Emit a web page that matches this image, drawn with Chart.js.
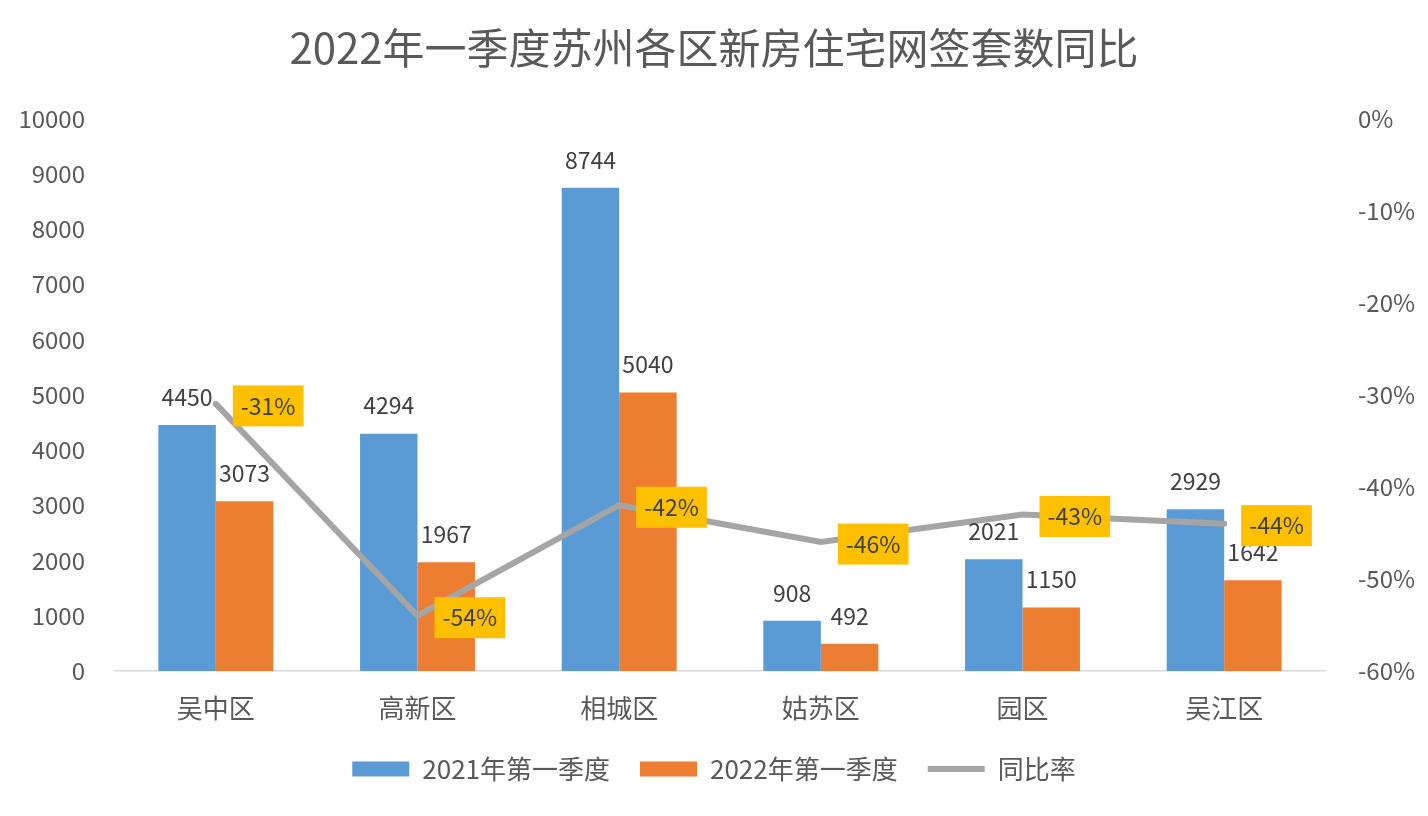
<!DOCTYPE html>
<html>
<head>
<meta charset="utf-8">
<script src="https://cdn.jsdelivr.net/npm/chart.js@4.4.1/dist/chart.umd.min.js"></script>
<style>
  html, body { margin: 0; padding: 0; background: #fff; }
  #wrap { width: 1428px; height: 816px; position: relative; }
</style>
</head>
<body>
<div id="wrap"><canvas id="salesChart"></canvas></div>
<script>
// ── data ──────────────────────────────────────────────
const districts = ['吴中区', '高新区', '相城区', '姑苏区', '园区', '吴江区'];
const sales2021 = [4450, 4294, 8744, 908, 2021, 2929];
const sales2022 = [3073, 1967, 5040, 492, 1150, 1642];
const yoyRate   = [-31, -54, -42, -46, -43, -44];   // %
const seriesNames = ['2021年第一季度', '2022年第一季度', '同比率'];
const titleText = '2022年一季度苏州各区新房住宅网签套数同比';

const FONT = '"Noto Sans CJK SC", "Noto Sans", sans-serif';
const TEXT = '#595959';
const LABEL = '#404040';
const COLORS = { blue: '#5B9BD5', orange: '#ED7D31', grey: '#A5A5A5', yellow: '#FFC000' };

Chart.defaults.font.family = FONT;
Chart.defaults.color = TEXT;

// value labels above bars + yellow boxes next to the line points
const valueLabels = {
    id: 'valueLabels',
    afterDatasetsDraw(chart) {
        const ctx = chart.ctx;
        ctx.save();
        ctx.font = '23px ' + FONT;
        ctx.textAlign = 'center';
        ctx.textBaseline = 'middle';
        [0, 1].forEach(di => {
            const vals = chart.data.datasets[di].data;
            chart.getDatasetMeta(di).data.forEach((bar, i) => {
                ctx.fillStyle = LABEL;
                ctx.fillText(String(vals[i]), bar.x, bar.y - 28);
            });
        });
        chart.getDatasetMeta(2).data.forEach((pt, i) => {
            const txt = yoyRate[i] + '%';
            const w = ctx.measureText(txt).width + 16, h = 41;
            const x0 = pt.x + 17, cy = pt.y + 2;
            ctx.fillStyle = COLORS.yellow;
            ctx.fillRect(x0, cy - h / 2, w, h);
            ctx.fillStyle = LABEL;
            ctx.fillText(txt, x0 + w / 2, cy);
        });
        ctx.restore();
    }
};

const ctx = document.getElementById('salesChart').getContext('2d');
new Chart(ctx, {
    type: 'bar',
    data: {
        labels: districts,
        datasets: [
            { label: seriesNames[0], data: sales2021, backgroundColor: COLORS.blue, yAxisID: 'y',
              categoryPercentage: 0.57, barPercentage: 1, order: 1, pointStyle: 'rect' },
            { label: seriesNames[1], data: sales2022, backgroundColor: COLORS.orange, yAxisID: 'y',
              categoryPercentage: 0.57, barPercentage: 1, order: 2, pointStyle: 'rect' },
            { type: 'line', label: seriesNames[2], data: yoyRate, borderColor: COLORS.grey, backgroundColor: COLORS.grey,
              borderWidth: 6, borderCapStyle: 'round', pointRadius: 0, pointStyle: 'line', tension: 0,
              yAxisID: 'y1', order: 0 }
        ]
    },
    options: {
        responsive: true,
        maintainAspectRatio: false,
        animation: false,
        devicePixelRatio: 1,
        layout: { padding: { left: 0, right: 0, top: 0, bottom: 24 } },
        plugins: {
            title: { display: true, text: titleText, color: TEXT, font: { size: 42, weight: 'normal' },
                     padding: { top: 23, bottom: 45 } },
            legend: {
                position: 'bottom',
                labels: { color: TEXT, font: { size: 26 }, usePointStyle: true, pointStyleWidth: 57,
                          boxHeight: 15, padding: 30, sort: (a, b) => a.datasetIndex - b.datasetIndex }
            },
            tooltip: { enabled: false }
        },
        scales: {
            x: {
                grid: { display: false },
                border: { display: true, color: '#D9D9D9', width: 1.5 },
                ticks: { color: TEXT, font: { size: 26 }, padding: 14 },
                afterFit(s) { s.height = 55; }
            },
            y: {
                position: 'left', min: 0, max: 10000,
                grid: { display: false }, border: { display: false },
                ticks: { stepSize: 1000, color: TEXT, font: { size: 24 }, padding: 22, callback: v => String(v) },
                afterFit(s) { s.width = 115; }
            },
            y1: {
                position: 'right', min: -60, max: 0,
                grid: { display: false }, border: { display: false },
                ticks: { stepSize: 10, color: TEXT, font: { size: 24 }, padding: 25, callback: v => v + '%' },
                afterFit(s) { s.width = 103; }
            }
        }
    },
    plugins: [valueLabels]
});
</script>
</body>
</html>
